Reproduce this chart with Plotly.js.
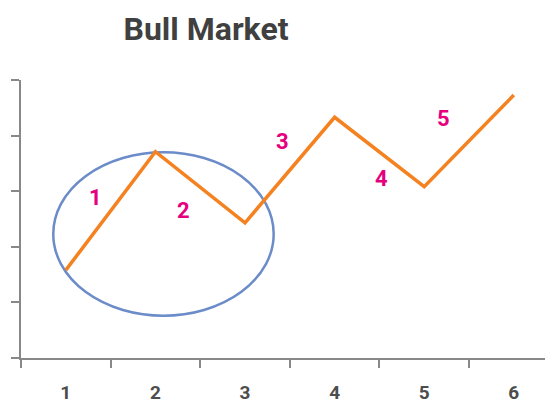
<!DOCTYPE html>
<html>
<head>
<meta charset="utf-8">
<script src="https://cdn.plot.ly/plotly-3.0.1.min.js"></script>
<style>html,body{margin:0;padding:0;background:#fff;}#chart{width:545px;height:406px;}</style>
</head>
<body>
<div id="chart"></div>
<script>
var categories = ['1', '2', '3', '4', '5', '6'];
var values = [1.58, 3.71, 2.43, 4.33, 3.08, 4.73];
var waveLabels = ['1', '2', '3', '4', '5'];
var waveLabelX = [0.33, 1.31, 2.42, 3.52, 4.21];
var waveLabelY = [2.89, 2.65, 3.90, 3.22, 4.30];
var yTicks = [0, 1, 2, 3, 4, 5];

var trace = {
  x: categories,
  y: values,
  type: 'scatter',
  mode: 'lines',
  line: {color: '#f58220', width: 3.5},
  hoverinfo: 'skip'
};

var annotations = waveLabels.map(function (t, i) {
  return {
    x: waveLabelX[i], y: waveLabelY[i], xref: 'x', yref: 'y',
    text: t, showarrow: false,
    font: {family: 'Roboto', size: 22, color: '#e6007e', weight: 'bold'},
    xanchor: 'center', yanchor: 'middle'
  };
});

var layout = {
  width: 545, height: 406,
  margin: {l: 21, r: 0, t: 80, b: 48},
  paper_bgcolor: '#ffffff',
  plot_bgcolor: '#ffffff',
  showlegend: false,
  title: {
    text: '<b>Bull Market</b>',
    font: {family: 'Roboto', size: 32, color: '#404040'},
    x: 0.378, xanchor: 'center', xref: 'container',
    y: 0.928, yanchor: 'middle', yref: 'container'
  },
  xaxis: {
    type: 'category',
    range: [-0.5, 5.348],
    tickson: 'boundaries',
    ticks: 'outside', ticklen: 8, tickwidth: 2, tickcolor: '#888888',
    showline: true, linecolor: '#888888', linewidth: 2,
    showgrid: false, zeroline: false,
    tickfont: {family: 'Roboto', size: 19, color: '#4d4d4d', weight: 'bold'},
    ticklabelstandoff: 16,
    fixedrange: true
  },
  yaxis: {
    range: [0, 5],
    tickvals: yTicks,
    showticklabels: false,
    ticks: 'outside', ticklen: 8, tickwidth: 2, tickcolor: '#888888',
    showline: true, linecolor: '#888888', linewidth: 2,
    showgrid: false, zeroline: false,
    fixedrange: true
  },
  shapes: [{
    type: 'circle', xref: 'x', yref: 'y',
    x0: -0.14, x1: 2.32, y0: 0.76, y1: 3.70,
    line: {color: '#6b8cc9', width: 2.5},
    layer: 'below'
  }],
  annotations: annotations
};

Plotly.newPlot('chart', [trace], layout, {displayModeBar: false, staticPlot: true});
</script>
</body>
</html>
